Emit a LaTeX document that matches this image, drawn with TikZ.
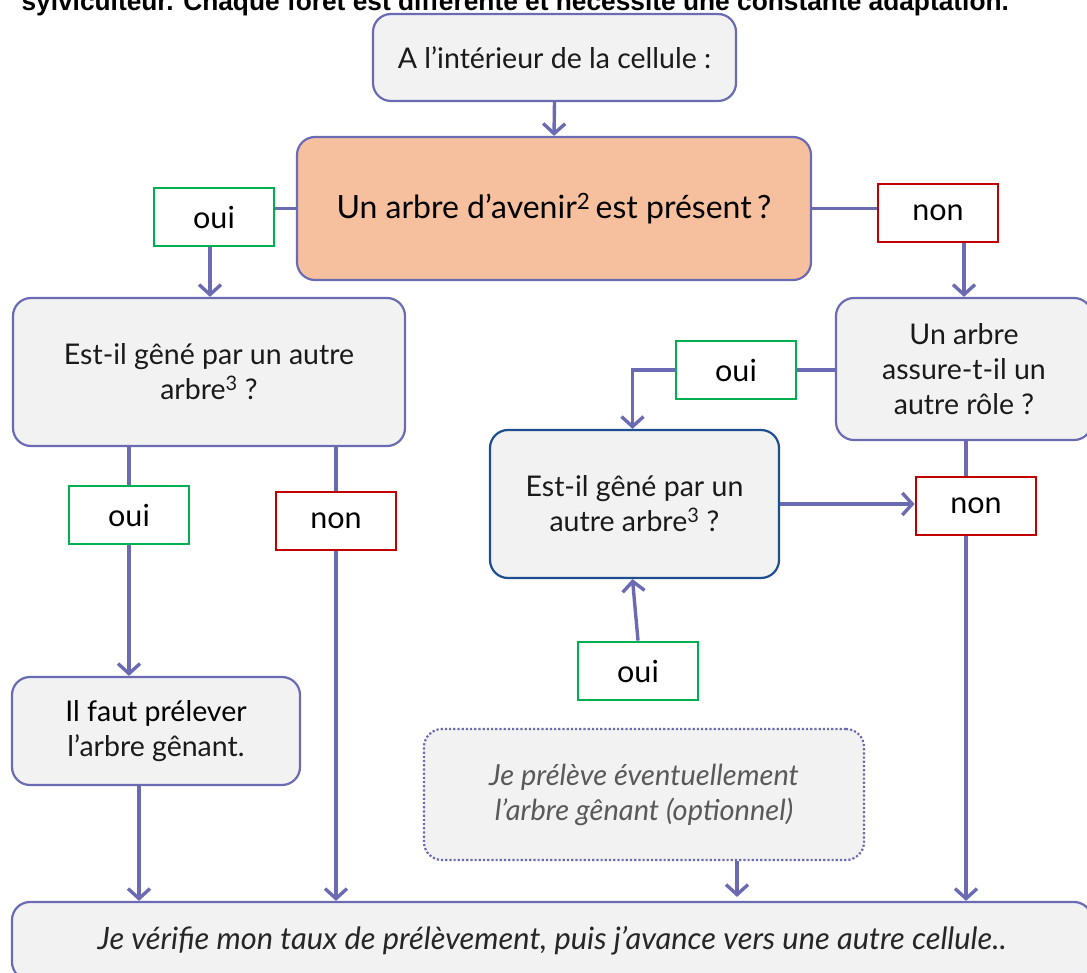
\documentclass[tikz,border=0pt]{standalone}
\usepackage{fontspec}
\setmainfont{Lato}
\newfontfamily\headfont{Liberation Sans}
\usetikzlibrary{arrows.meta}
\definecolor{lnc}{HTML}{6B6BB3}
\definecolor{boxg}{HTML}{F2F2F2}
\definecolor{peach}{HTML}{F6C09F}
\definecolor{okg}{HTML}{00B050}
\definecolor{nor}{HTML}{C00000}
\definecolor{blueb}{HTML}{1F4E8F}
\definecolor{txt}{HTML}{1A1A1A}
\definecolor{itx}{HTML}{595959}
\definecolor{btx}{HTML}{262626}
\begin{document}
\begin{tikzpicture}[x=1pt,y=-1pt,
  qbox/.style={draw=lnc, line width=2.2pt, fill=boxg, rounded corners=18pt, align=center,
    inner sep=0pt, text=txt, font=\fontsize{28.5}{35}\selectfont},
  lab/.style={draw, line width=2.8pt, fill=white, minimum width=120pt, minimum height=58pt,
    inner sep=0pt, text=black, font=\fontsize{30.5}{34}\selectfont},
  ouilab/.style={lab, draw=okg},
  nonlab/.style={lab, draw=nor},
  conn/.style={draw=lnc, line width=3.4pt},
  arr/.style={conn, -{Straight Barb[length=10pt,width=22pt]}}
]
\useasboundingbox (0,0) rectangle (1087,973);

\node[anchor=base west, font=\headfont\bfseries\fontsize{26.3}{30}\selectfont] (head) at (18,10.5)
  {sylviculteur. Chaque forêt est différente et nécessite une constante adaptation.};

\node[qbox, minimum width=363pt, minimum height=87pt] (top) at (554.5,57.5)
  {A l’intérieur de la cellule :};
\node[qbox, fill=peach, text=black, minimum width=514pt, minimum height=143pt,
  font=\fontsize{32}{36}\selectfont] (main) at (554,208.5)
  {Un arbre d’avenir\textsuperscript{2}\,est présent\,?};
\node[ouilab] (ouiA) at (214,217) {oui};
\node[nonlab] (nonA) at (938,213) {non};

\node[qbox, minimum width=392pt, minimum height=148pt] (left) at (209,372)
  {Est-il gêné par un autre\\arbre\textsuperscript{3} ?};
\node[qbox, minimum width=256pt, minimum height=142pt] (right) at (964,369)
  {Un arbre\\assure-t-il un\\autre rôle ?};
\node[ouilab] (ouiB) at (736,370) {oui};
\node[qbox, draw=blueb, minimum width=289pt, minimum height=148pt] (blue) at (634.5,504)
  {Est-il gêné par un\\autre arbre\textsuperscript{3} ?};

\node[ouilab] (ouiC) at (129,515) {oui};
\node[nonlab] (nonC) at (336,521) {non};
\node[nonlab] (nonD) at (976,506) {non};
\node[ouilab] (ouiD) at (638,671) {oui};

\node[qbox, minimum width=288pt, minimum height=108pt] (faut) at (156,731)
  {{\color{black}Il faut prélever}\\l’arbre gênant.};
\node[qbox, dotted, minimum width=440pt, minimum height=131pt, text=itx,
  font=\itshape\fontsize{29}{35}\selectfont] (dot) at (644,794.5)
  {Je prélève éventuellement\\l’arbre gênant (optionnel)};
\node[qbox, minimum width=1080pt, minimum height=78pt, text=btx,
  font=\itshape\fontsize{30.8}{35}\selectfont] (bottom) at (552,941)
  {Je vérifie mon taux de prélèvement, puis j’avance vers une autre cellule..};

% connectors
\draw[arr] (top.south) -- (main.north);
\draw[conn] (main.west) -- (main.west -| ouiA.east);
\draw[arr] ([xshift=-4pt]ouiA.south) -- ([xshift=-4pt]ouiA.south |- left.north);
\draw[conn] (main.east) -- (main.east -| nonA.west);
\draw[arr] (right.north |- nonA.south) -- (right.north);

\draw[conn] (right.west |- ouiB) -- (ouiB.east);
\draw[arr] (ouiB.west) -| ([xshift=-2pt]blue.north);

\draw[conn] (ouiC.north |- left.south) -- (ouiC.north);
\draw[arr] (ouiC.south) -- (ouiC.south |- faut.north);
\draw[conn] (nonC.north |- left.south) -- (nonC.north);
\draw[arr] (nonC.south) -- (nonC.south |- bottom.north);

\draw[conn] ([xshift=2pt]right.south) -- ([xshift=2pt]right.south |- nonD.north);
\draw[arr] ([xshift=2pt]right.south |- nonD.south) -- ([xshift=2pt]right.south |- bottom.north);
\draw[arr] (blue.east) -- (blue.east -| nonD.west);
\draw[arr] (ouiD.north) -- ([xshift=-2pt]blue.south);

\draw[arr] ([xshift=-17pt]faut.south) -- ([xshift=-17pt]faut.south |- bottom.north);
\draw[arr] ([xshift=93pt]dot.south) -- ([xshift=93pt,yshift=4pt]dot.south |- bottom.north);
\end{tikzpicture}
\end{document}
